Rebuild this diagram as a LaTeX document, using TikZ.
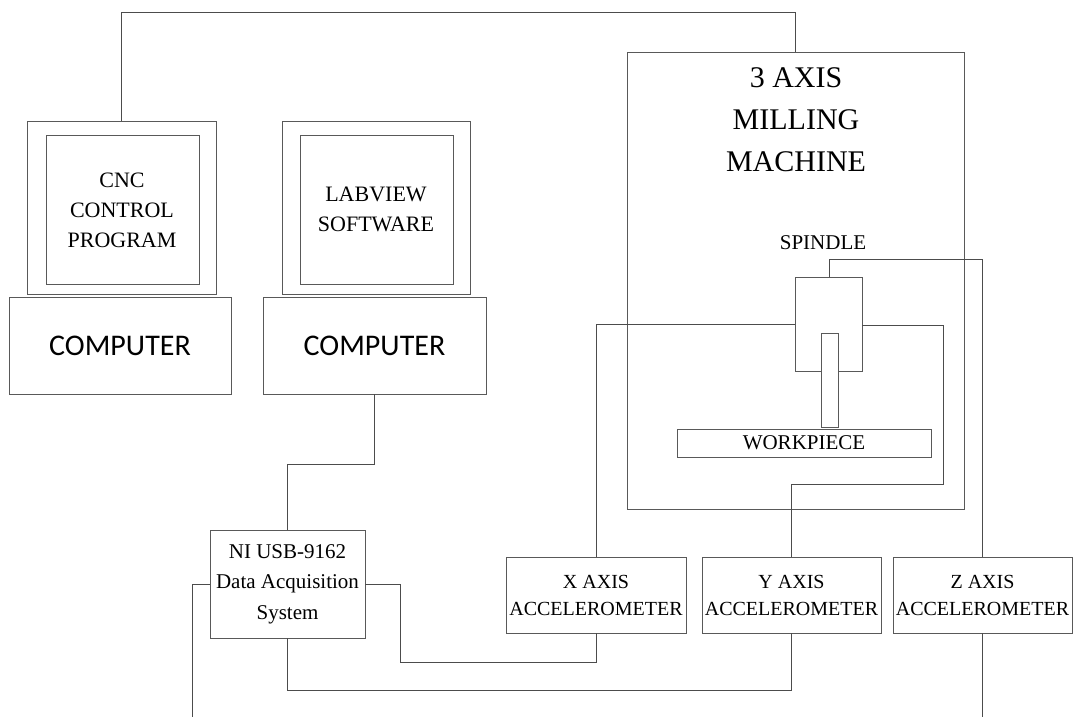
\documentclass[tikz,border=0pt]{standalone}
\usepackage{fontspec}
\setmainfont{Liberation Serif}
\newfontfamily\calib{Carlito}
\begin{document}
\begin{tikzpicture}[x=1pt,y=-1pt,
  box/.style={draw=black!65,line width=0.9pt,inner sep=0pt,rectangle},
  wire/.style={draw=black!70,line width=0.9pt},
  lbl/.style={align=center,inner sep=0pt,font=\fontsize{22}{30}\selectfont},
  acc/.style={align=center,inner sep=0pt,font=\fontsize{20}{27}\selectfont}]
\useasboundingbox (0,0) rectangle (1079,717);
% computers
\node[box,minimum width=189,minimum height=173] (mon1) at (121.5,207.5) {};
\node[box,minimum width=153,minimum height=149] (scr1) at (122.5,209.5) {};
\node[lbl] (t1) at (122,210) {CNC\\CONTROL\\PROGRAM};
\node[box,minimum width=222,minimum height=97,font=\calib\fontsize{30}{34}\selectfont] (base1) at (120,345.5) {COMPUTER};
\node[box,minimum width=188,minimum height=173] (mon2) at (376,207.5) {};
\node[box,minimum width=153,minimum height=149] (scr2) at (376.5,209.5) {};
\node[lbl] (t2) at (376,209) {LABVIEW\\SOFTWARE};
\node[box,minimum width=223,minimum height=97,font=\calib\fontsize{30}{34}\selectfont] (base2) at (374.5,345.5) {COMPUTER};
% machine
\node[box,minimum width=337,minimum height=457] (mach) at (795.5,280.5) {};
\node[align=center,inner sep=0pt,font=\fontsize{30}{42}\selectfont] (mt) at (796,120) {3 AXIS\\MILLING\\MACHINE};
\node[inner sep=0pt,font=\fontsize{21}{25}\selectfont] (spl) at (823,243) {SPINDLE};
\node[box,minimum width=67,minimum height=94] (spin) at (828.5,324) {};
\node[box,fill=white,minimum width=17,minimum height=94] (tool) at (829.5,380) {};
\node[box,minimum width=254,minimum height=28,font=\fontsize{21}{25}\selectfont] (work) at (804,443) {WORKPIECE};
% DAQ and accelerometers
\node[box,minimum width=155,minimum height=108] (daq) at (287.5,584) {};
\node[align=center,inner sep=0pt,font=\fontsize{21}{30.5}\selectfont] (daqt) at (287.5,584) {NI USB-9162\\Data Acquisition\\System};
\node[box,minimum width=180,minimum height=76] (xacc) at (596,595) {};
\node[acc] at (596,595) {X AXIS\\ACCELEROMETER};
\node[box,minimum width=179,minimum height=76] (yacc) at (791.5,595) {};
\node[acc] at (791.5,595) {Y AXIS\\ACCELEROMETER};
\node[box,minimum width=179,minimum height=76] (zacc) at (982.5,595) {};
\node[acc] at (982.5,595) {Z AXIS\\ACCELEROMETER};
% free ends and bends
\coordinate (e1) at (192,717);
\coordinate (e2) at (982.5,717);
\coordinate (tl) at (121.5,12);
% wires
\draw[wire] (mon1.north) -- (tl) -| (mach.north);
\draw[wire] (base2.south) -- (374.5,464) -| (daq.north);
\draw[wire] (daq.west) -| (e1);
\draw[wire] (daq.east) -- (400,584) |- (596,662) -- (xacc.south);
\draw[wire] (daq.south) |- (791.5,690) -- (yacc.south);
\draw[wire] (spin.west |- 0,324) -| (xacc.north);
\draw[wire] (spin.east |- 0,325) -- (943,325) |- (791.5,484) -- (yacc.north);
\draw[wire] (829,277) |- (982.5,259) -- (zacc.north);
\draw[wire] (zacc.south) -- (e2);
\end{tikzpicture}
\end{document}
